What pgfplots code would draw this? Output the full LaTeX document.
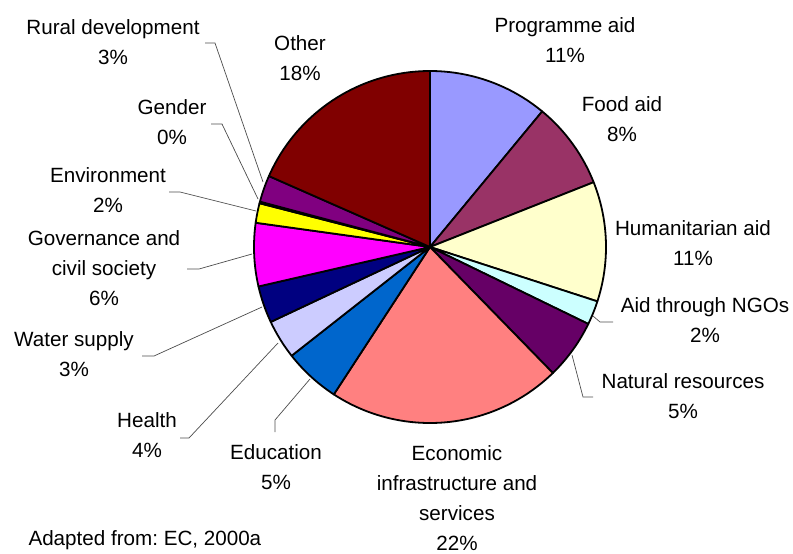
\documentclass[border=0pt]{standalone}
\usepackage{pgfplots}
\pgfplotsset{compat=1.18}
\usepackage{pgfplotstable}
\usepackage{fontspec}
\setmainfont{Liberation Sans}
\frenchspacing

\definecolor{pie0}{HTML}{9999FF}
\definecolor{pie1}{HTML}{993366}
\definecolor{pie2}{HTML}{FFFFCC}
\definecolor{pie3}{HTML}{CCFFFF}
\definecolor{pie4}{HTML}{660066}
\definecolor{pie5}{HTML}{FF8080}
\definecolor{pie6}{HTML}{0066CC}
\definecolor{pie7}{HTML}{CCCCFF}
\definecolor{pie8}{HTML}{000080}
\definecolor{pie9}{HTML}{FF00FF}
\definecolor{pie10}{HTML}{FFFF00}
\definecolor{pie11}{HTML}{00FFFF}
\definecolor{pie12}{HTML}{800080}
\definecolor{pie13}{HTML}{800000}

% share of each sector (%), clockwise from the top
\pgfplotstableread{
value
11.0
8.0
11.0
2.2
5.5
21.5
5.2
3.6
3.4
5.8
1.8
0.15
2.45
18.4
}\piedata

\begin{document}
\begin{tikzpicture}[lbl/.style={align=center,font=\fontsize{20.7}{30}\selectfont},
  lead/.style={draw=black!70,line width=0.7bp}]
\begin{axis}[x=1bp, y=1bp, xmin=0, xmax=793, ymin=0, ymax=550, y dir=reverse,
  hide axis, scale only axis, clip=false]
\path (axis cs:0,0) rectangle (axis cs:793,550);
\gdef\cum{0}
\pgfplotsforeachungrouped \i in {0,...,13}{%
  \pgfplotstablegetelem{\i}{value}\of\piedata
  \let\val\pgfplotsretval
  \pgfmathsetmacro{\angA}{90-3.6*\cum}
  \pgfmathsetmacro{\angB}{90-3.6*(\cum+\val)}
  \pgfmathsetmacro{\newcum}{\cum+\val}
  \xdef\cum{\newcum}
  \edef\doplot{\noexpand\addplot[fill=pie\i, draw=black, line width=1.8bp, line join=round, domain=\angB:\angA, samples=90] ({430+176*cos(x)},{247-176*sin(x)}) -- (axis cs:430,247) -- cycle;}
  \doplot
}

% leader lines
\draw[lead] (axis cs:205,43) -- (axis cs:215,43) -- (axis cs:263,182);
\draw[lead] (axis cs:211,124) -- (axis cs:222,124) -- (axis cs:258,199);
\draw[lead] (axis cs:169,192) -- (axis cs:180,192) -- (axis cs:256,211);
\draw[lead] (axis cs:187,269) -- (axis cs:199,269) -- (axis cs:252,254);
\draw[lead] (axis cs:142,356) -- (axis cs:154,356) -- (axis cs:262,307);
\draw[lead] (axis cs:180,438) -- (axis cs:189,438) -- (axis cs:278,343);
\draw[lead] (axis cs:275,432) -- (axis cs:275,420) -- (axis cs:310,379);
\draw[lead] (axis cs:593,316) -- (axis cs:600,322) -- (axis cs:613,322);
\draw[lead] (axis cs:572,355) -- (axis cs:583,397) -- (axis cs:593,397);

% labels
\node[lbl] at (axis cs:565,40) {Programme aid\\11\%};
\node[lbl] at (axis cs:622,119) {Food aid\\8\%};
\node[lbl] at (axis cs:693,243) {Humanitarian aid\\11\%};
\node[lbl] at (axis cs:705,320) {Aid through NGOs\\2\%};
\node[lbl] at (axis cs:683,396) {Natural resources\\5\%};
\node[lbl] at (axis cs:457,498) {Economic\\infrastructure and\\services\\22\%};
\node[lbl] at (axis cs:276,467) {Education\\5\%};
\node[lbl] at (axis cs:147,435) {Health\\4\%};
\node[lbl] at (axis cs:74,354) {Water supply\\3\%};
\node[lbl] at (axis cs:104,268) {Governance and\\civil society\\6\%};
\node[lbl] at (axis cs:108,190) {Environment\\2\%};
\node[lbl] at (axis cs:172,122) {Gender\\0\%};
\node[lbl] at (axis cs:113,42) {Rural development\\3\%};
\node[lbl] at (axis cs:300,58) {Other\\18\%};
\node[lbl,anchor=west] at (axis cs:25,540) {Adapted from: EC, 2000a};
\end{axis}
\end{tikzpicture}
\end{document}
